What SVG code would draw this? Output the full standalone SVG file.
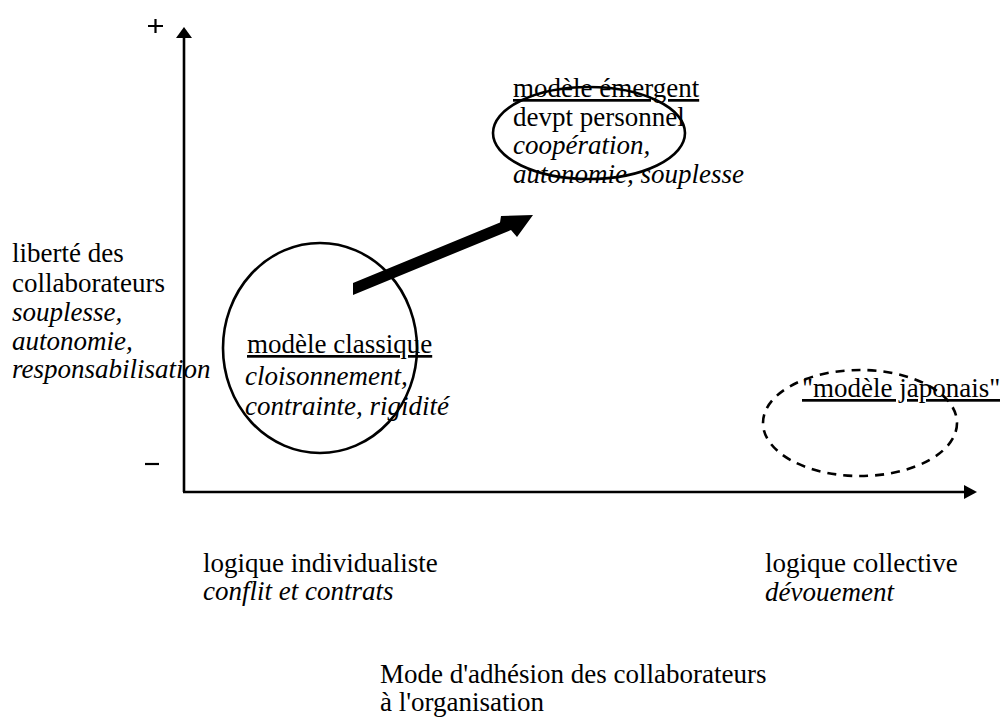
<svg xmlns="http://www.w3.org/2000/svg" width="1000" height="721" viewBox="0 0 1000 721">
<style>
text{font-family:"Liberation Serif","Times New Roman",serif;font-size:27px;fill:#000}
.i{font-style:italic}
.u{text-decoration:underline}
.shape{fill:none;stroke:#000;stroke-width:2.6}
.dash{fill:none;stroke:#000;stroke-width:2.6;stroke-dasharray:9 7}
.axis{stroke:#000;stroke-width:2.6;fill:none}
</style>
<rect width="1000" height="721" fill="#fff"/>
<g id="axes">
<line class="axis" x1="184" y1="36" x2="184" y2="492"/>
<line class="axis" x1="183" y1="492" x2="966" y2="492"/>
<polygon points="184,27 176,38 192,38" fill="#000"/>
<polygon points="977,492 964,485 964,499" fill="#000"/>
<path d="M148,26 H163 M155.5,19 V33" stroke="#000" stroke-width="2.2"/>
<path d="M145,464 H159" stroke="#000" stroke-width="2.2"/>
</g>
<g id="y-label">
<text x="12" y="262">liberté des</text>
<text x="12" y="292">collaborateurs</text>
<text class="i" x="12" y="321">souplesse,</text>
<text class="i" x="12" y="350">autonomie,</text>
<text class="i" x="12" y="378">responsabilisation</text>
</g>
<g id="x-labels">
<text x="203" y="572">logique individualiste</text>
<text class="i" x="203" y="600">conflit et contrats</text>
<text x="765" y="572">logique collective</text>
<text class="i" x="765" y="601">dévouement</text>
<text x="380" y="683">Mode d'adhésion des collaborateurs</text>
<text x="380" y="711">à l'organisation</text>
</g>
<g id="node-classique">
<ellipse class="shape" cx="320" cy="348" rx="97" ry="105"/>
<text class="u" x="247" y="353">modèle classique</text>
<text class="i" x="245" y="385">cloisonnement,</text>
<text class="i" x="245" y="415">contrainte, rigidité</text>
</g>
<g id="node-emergent">
<ellipse class="shape" cx="589" cy="133" rx="96" ry="46"/>
<text class="u" x="513" y="97">modèle émergent</text>
<text x="513" y="126">devpt personnel</text>
<text class="i" x="513" y="154">coopération,</text>
<text class="i" x="513" y="183">autonomie, souplesse</text>
</g>
<g id="node-japonais">
<ellipse class="dash" cx="860" cy="423" rx="97" ry="53"/>
<text class="u" x="802" y="397">"modèle japonais"</text>
</g>
<g id="connectors">
<polygon points="353,283 500,222.5 501,216 533,215 517,237 511,230 353,295" fill="#000"/>
</g>
</svg>
